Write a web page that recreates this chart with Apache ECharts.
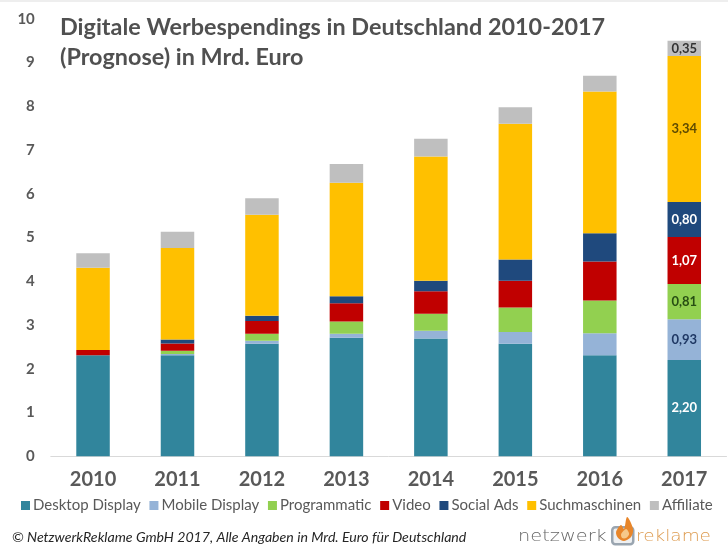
<!DOCTYPE html>
<html>
<head>
<meta charset="utf-8">
<style>
	html, body { margin: 0; padding: 0; background: #fff; }
	#chart { width: 728px; height: 552px; }
</style>
<script src="https://cdn.jsdelivr.net/npm/echarts@6/dist/echarts.min.js"></script>
</head>
<body>
<div id="chart"></div>
<script>
	//values, Mrd. Euro
	const years = ['2010', '2011', '2012', '2013', '2014', '2015', '2016', '2017'];
	const yTicks = [0, 1, 2, 3, 4, 5, 6, 7, 8, 9, 10];
	const desktopDisplay = [2.31, 2.31, 2.57, 2.71, 2.69, 2.57, 2.31, 2.20];
	const mobileDisplay = [0, 0.03, 0.07, 0.09, 0.18, 0.27, 0.50, 0.93];
	const programmatic = [0, 0.07, 0.16, 0.28, 0.39, 0.56, 0.75, 0.81];
	const video = [0.12, 0.17, 0.29, 0.42, 0.51, 0.61, 0.89, 1.07];
	const socialAds = [0, 0.09, 0.12, 0.16, 0.24, 0.49, 0.65, 0.80];
	const suchmaschinen = [1.88, 2.09, 2.31, 2.59, 2.84, 3.10, 3.24, 3.34];
	const affiliate = [0.33, 0.37, 0.38, 0.43, 0.41, 0.38, 0.36, 0.35];

	const TEXT_GREY = '#595959',
		FONT = 'Lato, "Noto Sans", sans-serif';

	var chart = echarts.init(document.getElementById('chart'));

	function genSeries(name, values, color, labelColor) {
		return {
			name: name,
			type: 'bar',
			stack: 'total',
			barWidth: 33.5,
			itemStyle: { color: color },
			label: {
				show: true,
				position: 'inside',
				color: labelColor,
				fontFamily: FONT,
				fontWeight: 'bold',
				fontSize: 13,
				//only the last year carries labels
				formatter: p => p.dataIndex === years.length - 1 ? p.value.toFixed(2).replace('.', ',') : ''
			},
			data: values
		};
	}

	chart.setOption({
		animation: false,
		backgroundColor: '#fff',
		title: {
			text: 'Digitale Werbespendings in Deutschland 2010-2017\n(Prognose) in Mrd. Euro',
			left: 55,
			top: 7,
			textStyle: { color: '#505050', fontFamily: FONT, fontWeight: 'bold', fontSize: 23.4, lineHeight: 30.5 }
		},
		grid: { left: 50.8, right: 1.5, top: 18.8, height: 437.5 },
		legend: {
			left: 16,
			top: 493,
			itemWidth: 9,
			itemHeight: 9,
			itemGap: 8.7,
			textStyle: { color: TEXT_GREY, fontFamily: FONT, fontSize: 15, padding: [0, 0, 0, -2] },
			icon: 'rect'
		},
		xAxis: {
			type: 'category',
			data: years,
			axisLine: { lineStyle: { color: '#d9d9d9' } },
			axisTick: { show: false },
			axisLabel: { color: TEXT_GREY, fontFamily: FONT, fontWeight: 'bold', fontSize: 20, margin: 13 }
		},
		yAxis: {
			type: 'value',
			min: yTicks[0],
			max: yTicks[yTicks.length - 1],
			interval: yTicks[1] - yTicks[0],
			splitLine: { show: false },
			axisLine: { show: false },
			axisTick: { show: false },
			axisLabel: { color: TEXT_GREY, fontFamily: FONT, fontWeight: 'bold', fontSize: 15, margin: 16 }
		},
		series: [
			genSeries('Desktop Display', desktopDisplay, '#31859c', '#fff'),
			genSeries('Mobile Display', mobileDisplay, '#95b3d7', '#1f3864'),
			genSeries('Programmatic', programmatic, '#92d050', '#274e13'),
			genSeries('Video', video, '#c00000', '#fff'),
			genSeries('Social Ads', socialAds, '#1f497d', '#fff'),
			genSeries('Suchmaschinen', suchmaschinen, '#ffc000', '#5f4b00'),
			genSeries('Affiliate', affiliate, '#bfbfbf', '#333')
		],
		graphic: [
			{ type: 'rect', left: 0, top: 0, shape: { width: 728, height: 2 }, style: { fill: '#eeeeee' } },
			{
				type: 'text', left: 12, top: 530,
				style: {
					text: '© NetzwerkReklame GmbH 2017, Alle Angaben in Mrd. Euro für Deutschland',
					fill: '#262626', font: 'italic 14.15px ' + FONT
				}
			},
			//logo
			{
				type: 'text', x: 518, y: 545, scaleX: 1.29,
				style: { text: 'netzwerk', fill: '#666', font: '200 15px "DejaVu Sans"', verticalAlign: 'bottom' }
			},
			{
				type: 'rect', left: 611, top: 526,
				shape: { width: 21, height: 17, r: 3 },
				style: { fill: '#eef0f2', stroke: '#9aa5b0', lineWidth: 2.5 }
			},
			{
				type: 'polygon', left: 616, top: 517,
				shape: {
					points: [[11, 0], [17, 12], [15, 20], [8, 24], [2, 21], [0, 15], [5, 8], [8, 12]],
					smooth: 0.3
				},
				style: { fill: '#e8862a' }
			},
			{
				type: 'polygon', left: 621, top: 529,
				shape: {
					points: [[5, 0], [8, 5], [5, 9], [1, 9], [0, 5]],
					smooth: 0.3
				},
				style: { fill: '#f6c98a' }
			},
			{
				type: 'text', x: 636, y: 545, scaleX: 1.23,
				style: { text: 'reklame', fill: '#dd9a4e', font: '200 15px "DejaVu Sans"', verticalAlign: 'bottom' }
			}
		]
	});
</script>
</body>
</html>
